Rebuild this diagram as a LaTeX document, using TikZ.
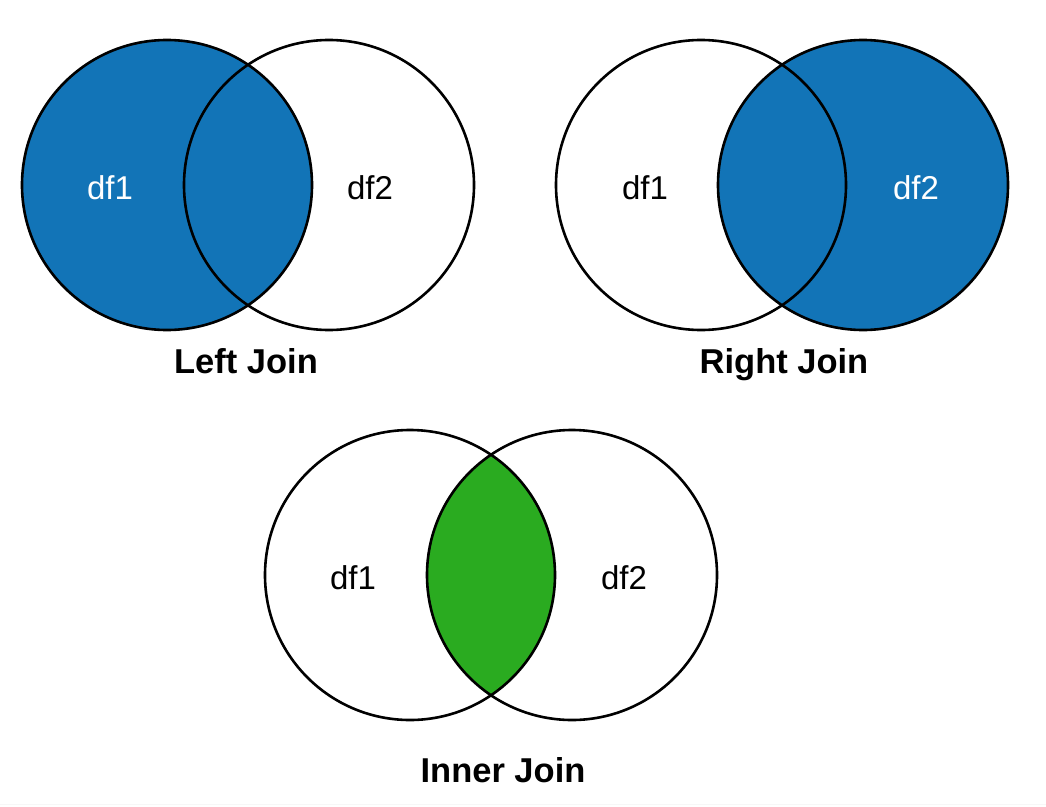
\documentclass[tikz,border=0pt]{standalone}
\usepackage{fontspec}
\setmainfont{Liberation Sans}
\definecolor{joinblue}{RGB}{18,116,183}
\definecolor{joingreen}{RGB}{42,171,32}
\begin{document}
\begin{tikzpicture}[x=1pt,y=-1pt,
  venn/.style={circle,draw=black,line width=2.6pt,minimum size=290pt,inner sep=0pt},
  setlabel/.style={font=\fontsize{33}{36}\selectfont,inner sep=0pt,anchor=base},
  title/.style={font=\fontsize{34.5}{38}\selectfont\bfseries,inner sep=0pt,anchor=base}]
\useasboundingbox (0,0) rectangle (1046,806);
\fill[white] (0,0) rectangle (1046,806);
\draw[gray!6,line width=1pt] (0,804) -- (1046,804);
% Left join
\fill[joinblue] (167,185) circle (145);
\node[venn] (l1) at (167,185) {};
\node[venn] (l2) at (329,185) {};
\node[setlabel,text=white] (l1t) at (110,199) {df1};
\node[setlabel] (l2t) at (370,199) {df2};
\node[title] (lt) at (246,373) {Left Join};
% Right join
\fill[joinblue] (863,185) circle (145);
\node[venn] (r1) at (701,185) {};
\node[venn] (r2) at (863,185) {};
\node[setlabel] (r1t) at (645,199) {df1};
\node[setlabel,text=white] (r2t) at (916,199) {df2};
\node[title] (rt) at (784,373) {Right Join};
% Inner join
\begin{scope}
\clip (410,575) circle (145);
\fill[joingreen] (572,575) circle (145);
\end{scope}
\node[venn] (i1) at (410,575) {};
\node[venn] (i2) at (572,575) {};
\node[setlabel] (i1t) at (353,589) {df1};
\node[setlabel] (i2t) at (624,589) {df2};
\node[title] (it) at (503,782) {Inner Join};
\end{tikzpicture}
\end{document}
